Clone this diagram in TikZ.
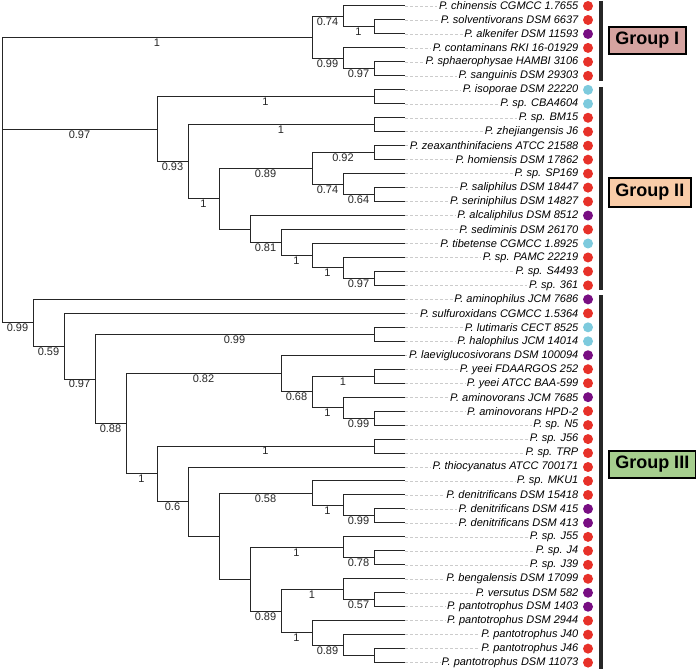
\documentclass[tikz,border=0pt]{standalone}
\usepackage{fontspec}
\setmainfont{Liberation Sans}
\definecolor{tipred}{RGB}{231,49,41}
\definecolor{tippurple}{RGB}{120,14,130}
\definecolor{tipcyan}{RGB}{125,202,221}
\definecolor{grpI}{RGB}{213,163,160}
\definecolor{grpII}{RGB}{249,204,168}
\definecolor{grpIII}{RGB}{166,206,142}
\tikzset{
  edge/.style={black!85, line width=1bp},
  supp/.style={below, inner sep=0.8bp, text=black!85,
    font=\fontsize{11bp}{12bp}\selectfont},
  tiplab/.style={anchor=east, inner xsep=1.5bp, inner ysep=0pt,
    font=\itshape\fontsize{11bp}{12bp}\selectfont},
  leader/.style={black!20, line width=0.5bp, dash pattern=on 3bp off 2bp},
  tipdot/.style={circle, inner sep=0pt, minimum size=10bp},
  bar/.style={black!85, line width=3.5bp},
  grp/.style={draw, line width=1.5bp, anchor=west, inner xsep=6.5bp,
    font=\bfseries\fontsize{18bp}{20bp}\selectfont}
}
\newcommand{\branch}[3][]{%
  % elbow from parent #2 to child #3, support value #1 under it
  \ifx\relax#1\relax
    \draw[edge] (#2) |- (#3);
  \else
    \draw[edge] (#2) |- (#3) node[supp, pos=0.75] {#1};
  \fi
}
\begin{document}
\begin{tikzpicture}[x=1bp, y=-1bp]
\useasboundingbox (0,0) rectangle (696,671);

\begin{scope}[shift={(2,6)}, x=31bp, y=-13.97bp]
% tips, labels and dots
\foreach \txt/\col [count=\j from 0] in {
  chinensis CGMCC 1.7655/tipred, solventivorans DSM 6637/tipred,
  alkenifer DSM 11593/tippurple, contaminans RKI 16-01929/tipred,
  sphaerophysae HAMBI 3106/tipred, sanguinis DSM 29303/tipred,
  isoporae DSM 22220/tipcyan, sp. CBA4604/tipcyan,
  sp. BM15/tipred, zhejiangensis J6/tipred,
  zeaxanthinifaciens ATCC 21588/tipred, homiensis DSM 17862/tipred,
  sp. SP169/tipred, saliphilus DSM 18447/tipred,
  seriniphilus DSM 14827/tipred, alcaliphilus DSM 8512/tippurple,
  sediminis DSM 26170/tipred, tibetense CGMCC 1.8925/tipcyan,
  sp. PAMC 22219/tipred, sp. S4493/tipred, sp. 361/tipred,
  aminophilus JCM 7686/tippurple, sulfuroxidans CGMCC 1.5364/tipred,
  lutimaris CECT 8525/tipcyan, halophilus JCM 14014/tipcyan,
  laeviglucosivorans DSM 100094/tippurple, yeei FDAARGOS 252/tipred,
  yeei ATCC BAA-599/tipred, aminovorans JCM 7685/tippurple,
  aminovorans HPD-2/tipred, sp. N5/tipred, sp. J56/tipred,
  sp. TRP/tipred, thiocyanatus ATCC 700171/tipred, sp. MKU1/tipred,
  denitrificans DSM 15418/tipred, denitrificans DSM 415/tippurple,
  denitrificans DSM 413/tippurple, sp. J55/tipred, sp. J4/tipred,
  sp. J39/tipred, bengalensis DSM 17099/tipred,
  versutus DSM 582/tippurple, pantotrophus DSM 1403/tippurple,
  pantotrophus DSM 2944/tipred, pantotrophus J40/tipred,
  pantotrophus J46/tipred, pantotrophus DSM 11073/tipred} {
  \coordinate (t\j) at (13,\j);
  \node[tiplab] (lab\j) at ([xshift=175bp]t\j) {P. \txt};
  \draw[leader] (t\j) -- (lab\j);
  \node[tipdot, fill=\col] (dot\j) at ([xshift=183bp]t\j) {};
}

% internal nodes (level, row)
\coordinate (root) at (0,11.25);
\coordinate (A) at (10,2.25);
\coordinate (B) at (11,0.75);
\coordinate (C) at (11,3.75);
\coordinate (D) at (12,1.5);
\coordinate (E) at (12,4.5);
\coordinate (G) at (5,8.824);
\coordinate (F) at (12,6.5);
\coordinate (H) at (6,11.148);
\coordinate (I) at (12,8.5);
\coordinate (J) at (7,13.797);
\coordinate (K) at (10,11.625);
\coordinate (L) at (12,10.5);
\coordinate (M) at (11,12.75);
\coordinate (N) at (12,13.5);
\coordinate (O) at (8,15.969);
\coordinate (P) at (9,16.938);
\coordinate (Q) at (10,17.875);
\coordinate (R) at (11,18.75);
\coordinate (S) at (12,19.5);
\coordinate (T) at (1,22.675);
\coordinate (U) at (2,24.35);
\coordinate (V) at (3,26.7);
\coordinate (W) at (12,23.5);
\coordinate (X) at (4,29.9);
\coordinate (Y) at (9,26.3125);
\coordinate (Z) at (10,27.625);
\coordinate (AA) at (12,26.5);
\coordinate (AB) at (11,28.75);
\coordinate (AC) at (12,29.5);
\coordinate (AD) at (5,33.488);
\coordinate (AE) at (12,31.5);
\coordinate (AF) at (6,35.477);
\coordinate (AG) at (7,37.953);
\coordinate (AH) at (10,34.875);
\coordinate (AI) at (11,35.75);
\coordinate (AJ) at (12,36.5);
\coordinate (AK) at (8,41.031);
\coordinate (AL) at (11,38.75);
\coordinate (AM) at (12,39.5);
\coordinate (AN) at (9,43.3125);
\coordinate (AO) at (11,41.75);
\coordinate (AP) at (12,42.5);
\coordinate (AQ) at (10,44.875);
\coordinate (AR) at (11,45.75);
\coordinate (AS) at (12,46.5);

% group I
\branch[1]{root}{A}
\branch[0.74]{A}{B}
\branch[0.99]{A}{C}
\branch{B}{t0}
\branch[1]{B}{D}
\branch{D}{t1}
\branch{D}{t2}
\branch{C}{t3}
\branch[0.97]{C}{E}
\branch{E}{t4}
\branch{E}{t5}

% group II
\branch[0.97]{root}{G}
\branch[1]{G}{F}
\branch{F}{t6}
\branch{F}{t7}
\branch[0.93]{G}{H}
\branch[1]{H}{I}
\branch{I}{t8}
\branch{I}{t9}
\branch[1]{H}{J}
\branch[0.89]{J}{K}
\branch[0.92]{K}{L}
\branch{L}{t10}
\branch{L}{t11}
\branch[0.74]{K}{M}
\branch{M}{t12}
\branch[0.64]{M}{N}
\branch{N}{t13}
\branch{N}{t14}
\branch{J}{O}
\branch{O}{t15}
\branch[0.81]{O}{P}
\branch{P}{t16}
\branch[1]{P}{Q}
\branch{Q}{t17}
\branch[1]{Q}{R}
\branch{R}{t18}
\branch[0.97]{R}{S}
\branch{S}{t19}
\branch{S}{t20}

% group III
\branch[0.99]{root}{T}
\branch{T}{t21}
\branch[0.59]{T}{U}
\branch{U}{t22}
\branch[0.97]{U}{V}
\branch[0.99]{V}{W}
\branch{W}{t23}
\branch{W}{t24}
\branch[0.88]{V}{X}
\branch[0.82]{X}{Y}
\branch{Y}{t25}
\branch[0.68]{Y}{Z}
\branch[1]{Z}{AA}
\branch{AA}{t26}
\branch{AA}{t27}
\branch[1]{Z}{AB}
\branch{AB}{t28}
\branch[0.99]{AB}{AC}
\branch{AC}{t29}
\branch{AC}{t30}
\branch[1]{X}{AD}
\branch[1]{AD}{AE}
\branch{AE}{t31}
\branch{AE}{t32}
\branch[0.6]{AD}{AF}
\branch{AF}{t33}
\branch{AF}{AG}
\branch[0.58]{AG}{AH}
\branch{AH}{t34}
\branch[1]{AH}{AI}
\branch{AI}{t35}
\branch[0.99]{AI}{AJ}
\branch{AJ}{t36}
\branch{AJ}{t37}
\branch{AG}{AK}
\branch[1]{AK}{AL}
\branch{AL}{t38}
\branch[0.78]{AL}{AM}
\branch{AM}{t39}
\branch{AM}{t40}
\branch[0.89]{AK}{AN}
\branch[1]{AN}{AO}
\branch{AO}{t41}
\branch[0.57]{AO}{AP}
\branch{AP}{t42}
\branch{AP}{t43}
\branch[1]{AN}{AQ}
\branch{AQ}{t44}
\branch[0.89]{AQ}{AR}
\branch{AR}{t45}
\branch{AR}{AS}
\branch{AS}{t46}
\branch{AS}{t47}
\end{scope}

% group bars and boxes
\draw[bar] (601,1) -- (601,81);
\draw[bar] (601,87) -- (601,290);
\draw[bar] (601,295) -- (601,669);
\node[grp, fill=grpI, minimum height=27bp] (gI) at (608,40.5) {Group I};
\node[grp, fill=grpII, minimum height=29bp] (gII) at (608,192.5) {Group II};
\node[grp, fill=grpIII, minimum height=27bp] (gIII) at (608,464.5) {Group III};
\end{tikzpicture}
\end{document}
